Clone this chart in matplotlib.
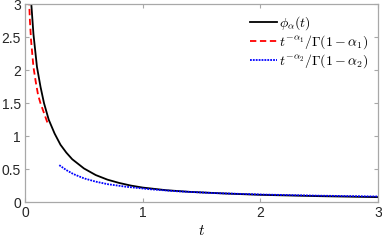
import matplotlib
matplotlib.use("Agg")
import matplotlib.pyplot as plt

plt.rcParams['font.family'] = ['Liberation Sans', 'DejaVu Sans']
plt.rcParams['mathtext.fontset'] = 'cm'

# values
t_phi = [0.05, 0.07, 0.1, 0.13, 0.16, 0.2, 0.25, 0.3, 0.35, 0.4, 0.5,
         0.6, 0.7, 0.8, 0.9, 1.0, 1.2, 1.4, 1.7, 2.0, 2.5, 3.0]
phi = [3.05, 2.55, 2.05, 1.75, 1.5, 1.25, 1.04, 0.87, 0.75, 0.65, 0.51,
       0.41, 0.34, 0.29, 0.25, 0.22, 0.18, 0.155, 0.13, 0.11, 0.09, 0.075]

t_a1 = [0.03, 0.04, 0.05, 0.07, 0.09, 0.11, 0.13, 0.15, 0.17, 0.19]
y_a1 = [3.2, 2.75, 2.45, 2.05, 1.82, 1.62, 1.5, 1.4, 1.3, 1.2]

t_a2 = [0.29, 0.35, 0.41, 0.5, 0.6, 0.7, 0.86, 1.06, 1.3, 1.6, 2.0, 2.5, 3.0]
y_a2 = [0.56, 0.485, 0.425, 0.36, 0.31, 0.272, 0.232, 0.195, 0.163, 0.137, 0.115, 0.097, 0.085]

xticks = [0, 1, 2, 3]
yticks = [0, 0.5, 1, 1.5, 2, 2.5, 3]
yticklabels = ['0', '0.5', '1', '1.5', '2', '2.5', '3']

fig = plt.figure(figsize=(3.82, 2.40), dpi=100)
ax = fig.add_axes([0.066, 0.158, 0.923, 0.824])

ax.plot(t_phi, phi, color='black', lw=1.3, label=r'$\phi_\alpha(t)$')
ax.plot(t_a1, y_a1, color='red', lw=1.3, ls=(0, (3.5, 2)),
        label=r'$t^{-\alpha_1}/\Gamma(1-\alpha_1)$')
ax.plot(t_a2, y_a2, color='blue', lw=1.3, ls=(0, (1, 0.6)),
        label=r'$t^{-\alpha_2}/\Gamma(1-\alpha_2)$')

ax.set_xlim(0, 3)
ax.set_ylim(0, 3)
ax.set_xticks(xticks)
ax.set_xticklabels([str(v) for v in xticks])
ax.set_yticks(yticks)
ax.set_yticklabels(yticklabels)
ax.set_xlabel(r'$t$', fontsize=11, labelpad=3)

for s in ax.spines.values():
    s.set_color('#a8a8a8')
    s.set_linewidth(0.9)
ax.tick_params(direction='in', top=True, right=True, length=3,
               color='#a8a8a8', labelsize=10, labelcolor='#262626', pad=3)

leg = ax.legend(loc='upper right', fontsize=10, frameon=False,
                handlelength=1.9, handletextpad=0.15, labelspacing=0.1,
                borderaxespad=0.3)

fig.savefig('out.png', dpi=100)
